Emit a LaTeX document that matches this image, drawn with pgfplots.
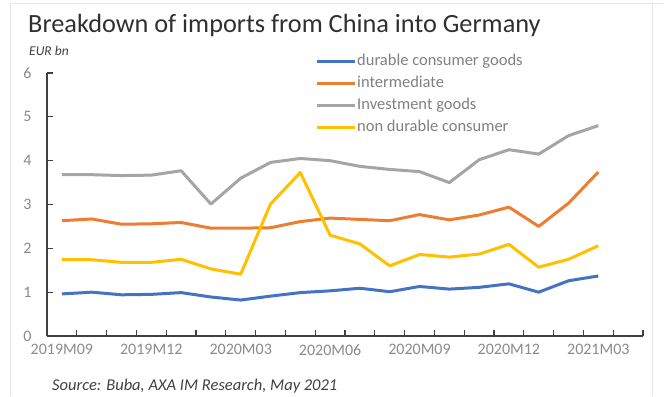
\documentclass[border=0pt]{standalone}
\usepackage{pgfplots}
\pgfplotsset{compat=1.18}
\usepackage{fontspec}
\setmainfont{Carlito}
\definecolor{cblue}{HTML}{4472C4}
\definecolor{corange}{HTML}{ED7D31}
\definecolor{cgrey}{HTML}{A5A5A5}
\definecolor{cyellow}{HTML}{FFC000}
\definecolor{axisc}{HTML}{404040}
\definecolor{tickc}{HTML}{8A8A8A}
\definecolor{legc}{HTML}{808080}
\definecolor{titlec}{HTML}{303030}
\definecolor{framec}{HTML}{E6E6E6}
\pgfplotstableread{
i durable intermediate investment nondurable
0  0.96 2.63 3.68 1.74
1  1.00 2.67 3.68 1.74
2  0.94 2.55 3.66 1.68
3  0.95 2.56 3.67 1.68
4  0.99 2.59 3.77 1.75
5  0.89 2.46 3.01 1.53
6  0.82 2.46 3.60 1.41
7  0.91 2.47 3.96 3.01
8  0.99 2.61 4.05 3.73
9  1.03 2.69 4.00 2.30
10 1.09 2.66 3.87 2.10
11 1.01 2.63 3.80 1.60
12 1.13 2.77 3.75 1.86
13 1.07 2.65 3.50 1.80
14 1.11 2.76 4.02 1.87
15 1.19 2.94 4.25 2.09
16 1.00 2.50 4.15 1.57
17 1.26 3.03 4.57 1.75
18 1.37 3.74 4.80 2.06
}\datatable
\begin{document}
\begin{tikzpicture}[x=1bp,y=1bp]
\useasboundingbox (0,0) rectangle (664,396);
\draw[framec, line width=1bp] (10,0) -- (10,392) -- (664,392);
\draw[framec, line width=1bp] (652,0) -- (652,392);
\node[anchor=base west, inner sep=0pt, text=titlec, font=\fontsize{26.3bp}{30bp}\selectfont] at (28,364) {Breakdown of imports from China into Germany};
\node[anchor=base west, inner sep=0pt, text=axisc, font=\fontsize{13.5bp}{16bp}\selectfont\itshape] at (29,341) {EUR bn};
\node[anchor=base west, inner sep=0pt, text=axisc, font=\fontsize{16.5bp}{19bp}\selectfont\itshape] at (52,6) {Source: Buba, AXA IM Research, May 2021};
\begin{axis}[
  at={(47bp,60bp)}, anchor=south west,
  scale only axis, width=596bp, height=263bp,
  xmin=-0.5, xmax=19.5, ymin=0, ymax=6,
  axis x line*=bottom, axis y line*=left,
  axis line style={draw=axisc, line width=1.3bp, -},
  tick align=inside,
  xtick={0,3,...,18},
  xticklabels={2019M09,2019M12,2020M03,2020M06,2020M09,2020M12,2021M03},
  major x tick style={draw=none},
  minor xtick={-0.5,0.5,...,19.5},
  minor x tick style={draw=axisc, line width=1.2bp},
  minor tick length=6bp,
  ytick={0,1,...,6},
  major y tick style={draw=axisc, line width=1.2bp},
  major tick length=6bp,
  /pgf/number format/assume math mode=true,
  ticklabel style={font=\fontsize{16bp}{18bp}\selectfont, text=tickc},
  xticklabel style={yshift=-5bp},
  yticklabel style={xshift=-12bp},
  legend style={at={(0.4497,1.0875)}, anchor=north west, draw=none, fill=none,
    inner sep=0pt, row sep=0pt, column sep=0pt,
    font=\fontsize{16.5bp}{18bp}\selectfont, text=legc,
    cells={anchor=west},
    nodes={inner xsep=1bp, inner ysep=0pt, text height=15bp, text depth=7bp}},
  legend image code/.code={\draw[#1, line width=3bp] (0bp,0bp) -- (38bp,0bp);},
  every axis plot/.append style={line width=3bp, mark=none, line join=round},
]
\addplot[cblue] table[x=i, y=durable] {\datatable};
\addlegendentry{durable consumer goods}
\addplot[corange] table[x=i, y=intermediate] {\datatable};
\addlegendentry{intermediate}
\addplot[cgrey] table[x=i, y=investment] {\datatable};
\addlegendentry{Investment goods}
\addplot[cyellow] table[x=i, y=nondurable] {\datatable};
\addlegendentry{non durable consumer}
\end{axis}
\end{tikzpicture}
\end{document}
